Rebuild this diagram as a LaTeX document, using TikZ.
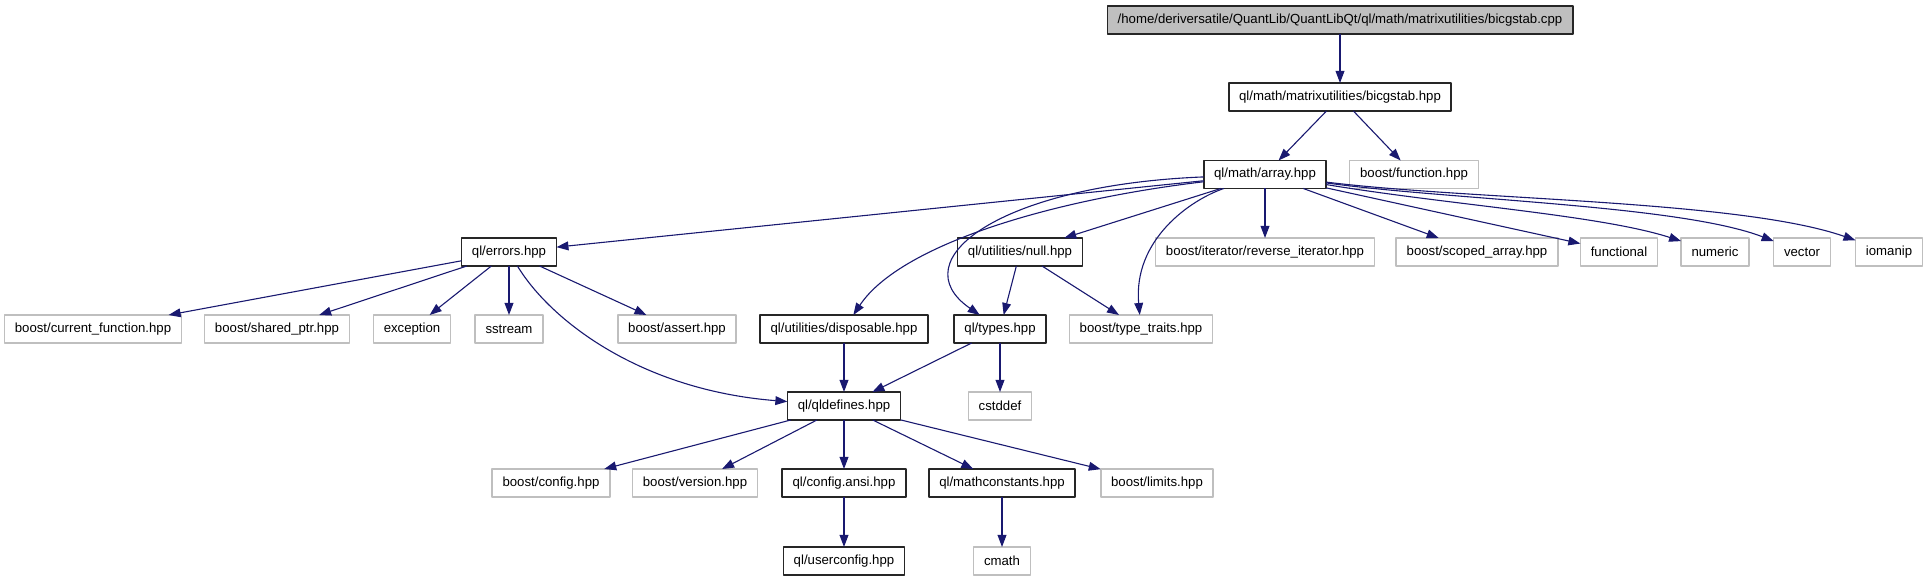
\documentclass[tikz,border=0pt]{standalone}
\usepackage{fontspec}
\setmainfont{Liberation Sans}
\usetikzlibrary{arrows.meta}

\definecolor{edgeblue}{RGB}{25,25,112}
\definecolor{boxgray}{RGB}{191,191,191}

\begin{document}
\begin{tikzpicture}[
  x=0.5pt,
  y=-0.5pt,
  line join=round,
  file/.style={
    draw=black!85,
    line width=0.8pt,
    fill=white,
    font=\fontsize{6.6}{8}\selectfont,
    inner xsep=5.2pt,
    inner ysep=0pt,
    minimum height=14pt,
    outer sep=0pt
  },
  mainfile/.style={
    file,
    fill=boxgray
  },
  extfile/.style={
    file,
    draw=boxgray
  },
  dep/.style={
    draw=edgeblue,
    line width=0.55pt,
    -{Triangle[length=6pt,width=4.4pt]}
  }
]

  % 第 0-2 层
  \node[mainfile] (root) at (1340,20)
    {/home/deriversatile/QuantLib/QuantLibQt/ql/math/matrixutilities/bicgstab.cpp};
  \node[file] (bicg) at (1340,97) {ql/math/matrixutilities/bicgstab.hpp};
  \node[file] (array) at (1265,174.5) {ql/math/array.hpp};
  \node[extfile] (function) at (1414,174.5) {boost/function.hpp};

  % 第 3 层
  \node[file] (errors) at (509,252) {ql/errors.hpp};
  \node[file] (null) at (1020,252) {ql/utilities/null.hpp};
  \node[extfile] (reviter) at (1265,252) {boost/iterator/reverse\_iterator.hpp};
  \node[extfile] (scoped) at (1477,252) {boost/scoped\_array.hpp};
  \node[extfile] (functional) at (1619,252) {functional};
  \node[extfile] (numeric) at (1715,252) {numeric};
  \node[extfile] (vector) at (1802,252) {vector};
  \node[extfile] (iomanip) at (1889,252) {iomanip};

  % 第 4 层
  \node[extfile] (curfunc) at (93,329) {boost/current\_function.hpp};
  \node[extfile] (sharedptr) at (277,329) {boost/shared\_ptr.hpp};
  \node[extfile] (exception) at (412,329) {exception};
  \node[extfile] (sstream) at (509,329) {sstream};
  \node[extfile] (assert) at (677,329) {boost/assert.hpp};
  \node[file] (disposable) at (844,329) {ql/utilities/disposable.hpp};
  \node[file] (types) at (1000,329) {ql/types.hpp};
  \node[extfile] (typetraits) at (1141,329) {boost/type\_traits.hpp};

  % 第 5 层
  \node[file] (qldefines) at (844,406) {ql/qldefines.hpp};
  \node[extfile] (cstddef) at (1000,406) {cstddef};

  % 第 6-7 层
  \node[extfile] (config) at (551,483) {boost/config.hpp};
  \node[extfile] (version) at (695,483) {boost/version.hpp};
  \node[file] (configansi) at (844,483) {ql/config.ansi.hpp};
  \node[file] (mathconst) at (1002,483) {ql/mathconstants.hpp};
  \node[extfile] (limits) at (1157,483) {boost/limits.hpp};
  \node[file] (userconfig) at (844,561) {ql/userconfig.hpp};
  \node[extfile] (cmath) at (1002,561) {cmath};

  % 上部依赖
  \draw[dep] (root) -- (bicg);
  \draw[dep] (bicg) -- (array);
  \draw[dep] (bicg) -- (function);

  % array.hpp 的依赖
  \draw[dep] (array) -- (errors);
  \draw[dep] (array) -- (null);
  \draw[dep] (array) -- (reviter);
  \draw[dep] (array) -- (scoped);
  \draw[dep] (array) -- (functional);
  \draw[dep]
    (array)
    .. controls (1450,205) and (1600,215) ..
    (numeric);
  \draw[dep]
    (array)
    .. controls (1450,200) and (1680,205) ..
    (vector);
  \draw[dep]
    (array)
    .. controls (1470,200) and (1740,200) ..
    (iomanip);
  \draw[dep]
    (array)
    .. controls (1050,200) and (900,245) ..
    (disposable);
  \draw[dep]
    (array)
    .. controls (1000,185) and (900,260) ..
    (types);
  \draw[dep]
    (array)
    .. controls (1190,200) and (1133,240) ..
    (typetraits);

  % errors.hpp 的依赖
  \draw[dep] (errors) -- (curfunc);
  \draw[dep] (errors) -- (sharedptr);
  \draw[dep] (errors) -- (exception);
  \draw[dep] (errors) -- (sstream);
  \draw[dep] (errors) -- (assert);
  \draw[dep]
    (errors)
    .. controls (550,320) and (640,390) ..
    (qldefines);

  % null.hpp, types.hpp
  \draw[dep] (null) -- (types);
  \draw[dep] (null) -- (typetraits);
  \draw[dep] (disposable) -- (qldefines);
  \draw[dep] (types) -- (qldefines);
  \draw[dep] (types) -- (cstddef);

  % qldefines.hpp 的依赖
  \draw[dep] (qldefines) -- (config);
  \draw[dep] (qldefines) -- (version);
  \draw[dep] (qldefines) -- (configansi);
  \draw[dep] (qldefines) -- (mathconst);
  \draw[dep] (qldefines) -- (limits);
  \draw[dep] (configansi) -- (userconfig);
  \draw[dep] (mathconst) -- (cmath);

  \path[use as bounding box]
    (0,0) rectangle (1928,581);

\end{tikzpicture}
\end{document}
